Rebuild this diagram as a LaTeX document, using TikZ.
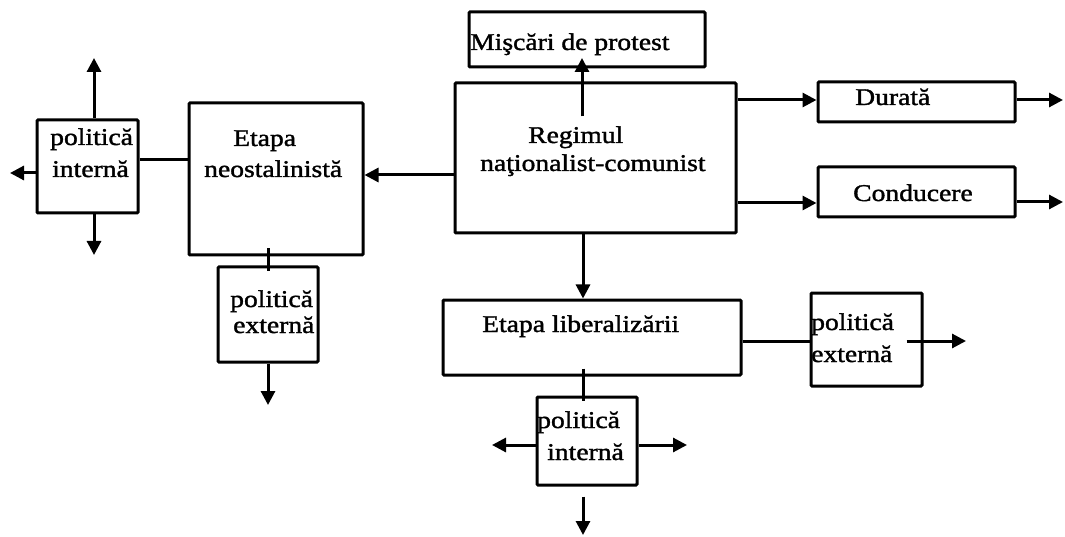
\documentclass[tikz,border=0pt]{standalone}
\usepackage{fontspec}
\setmainfont{Liberation Serif}[FakeStretch=1.15,FakeBold=1.5]
\usetikzlibrary{arrows.meta}
\tikzset{
  box/.style={draw, line width=3pt, inner sep=0pt, rounded corners=1pt},
  lbl/.style={anchor=base west, inner sep=0pt, font=\fontsize{24}{28}\selectfont},
  ln/.style={line width=3pt},
  arr/.style={line width=3pt, -{Triangle[length=14pt,width=14pt]}}
}
\begin{document}
\begin{tikzpicture}[x=1pt,y=-1pt]
\useasboundingbox (0,0) rectangle (1065,537);
% boxes
\node[box, minimum width=236pt, minimum height=55pt]  (misc)  at (587,39.5) {};
\node[box, minimum width=281pt, minimum height=150pt] (reg)   at (595.5,158) {};
\node[box, minimum width=174pt, minimum height=152pt] (neo)   at (276,179) {};
\node[box, minimum width=101pt, minimum height=93pt]  (pint1) at (87.5,166.5) {};
\node[box, minimum width=100pt, minimum height=95pt]  (pext1) at (268,314.5) {};
\node[box, minimum width=197pt, minimum height=40pt]  (dur)   at (916.5,102) {};
\node[box, minimum width=197pt, minimum height=50pt]  (cond)  at (916.5,192) {};
\node[box, minimum width=298pt, minimum height=75pt]  (lib)   at (592,337.5) {};
\node[box, minimum width=111pt, minimum height=93pt]  (pext2) at (866.5,339.5) {};
\node[box, minimum width=100pt, minimum height=88pt]  (pint2) at (587,441) {};
% texts
\node[lbl] (miscT) at (470,50) {Mişcări de protest};
\node[lbl] (regT1) at (528,143) {Regimul};
\node[lbl] (regT2) at (480,171) {naţionalist-comunist};
\node[lbl] (neoT1) at (233,146) {Etapa};
\node[lbl] (neoT2) at (204,177) {neostalinistă};
\node[lbl] (pi1T1) at (50,145) {politică};
\node[lbl] (pi1T2) at (52,177) {internă};
\node[lbl] (pe1T1) at (230,307) {politică};
\node[lbl] (pe1T2) at (233,333) {externă};
\node[lbl] (durT)  at (855,105) {Durată};
\node[lbl] (condT) at (853,201) {Conducere};
\node[lbl] (libT)  at (482,332) {Etapa liberalizării};
\node[lbl] (pi2T1) at (537,428) {politică};
\node[lbl] (pi2T2) at (547,460) {internă};
\node[lbl] (pe2T1) at (811,330) {politică};
\node[lbl] (pe2T2) at (811,362) {externă};
% helper coordinates
\coordinate (yRN) at (0,175);
\coordinate (hA)  at (0,160);
\coordinate (p1up) at (94,58);
\coordinate (p1dn) at (94,255);
\coordinate (p1lt) at (10,173);
\coordinate (vN)  at (268,0);
\coordinate (p1x) at (268,405);
\coordinate (vM)  at (582,58);
\coordinate (hD)  at (0,100);
\coordinate (dO)  at (1063,100);
\coordinate (hC)  at (0,203);
\coordinate (cO)  at (1063,202);
\coordinate (vL)  at (583,0);
\coordinate (hE)  at (0,341);
\coordinate (eO)  at (966,341);
\coordinate (iL)  at (492,445);
\coordinate (iR)  at (687,445);
\coordinate (iD)  at (583,535);
% connectors
\draw[arr] (reg.west |- yRN) -- (neo.east |- yRN);
\draw[ln]  (pint1.east |- hA) -- (neo.west |- hA);
\draw[arr] (pint1.north -| p1up) -- (p1up);
\draw[arr] (pint1.south -| p1dn) -- (p1dn);
\draw[arr] (pint1.west |- p1lt) -- (p1lt);
\draw[ln]  (neo.south -| vN) ++(0,-8) -- (pext1.north -| vN) -- ++(0,6);
\draw[arr] (pext1.south -| p1x) -- (p1x);
\draw[arr] (reg.north -| vM) ++(0,35) -- (vM);
\draw[arr] (reg.east |- hD) -- (dur.west |- hD);
\draw[arr] (dur.east |- dO) -- (dO);
\draw[arr] (reg.east |- hC) -- (cond.west |- hC);
\draw[arr] (cond.east |- cO) -- (cO);
\draw[arr] (reg.south -| vL) -- (lib.north -| vL);
\draw[ln]  (lib.east |- hE) -- (pext2.west |- hE);
\draw[arr] (pext2.east |- eO) ++(-17,0) -- (eO);
\draw[ln]  (lib.south -| vL) ++(0,-8) -- (pint2.north -| vL) -- ++(0,5);
\draw[arr] (pint2.west |- iL) -- (iL);
\draw[arr] (pint2.east |- iR) -- (iR);
\draw[arr] (pint2.south -| iD) ++(0,10) -- (iD);
\end{tikzpicture}
\end{document}
